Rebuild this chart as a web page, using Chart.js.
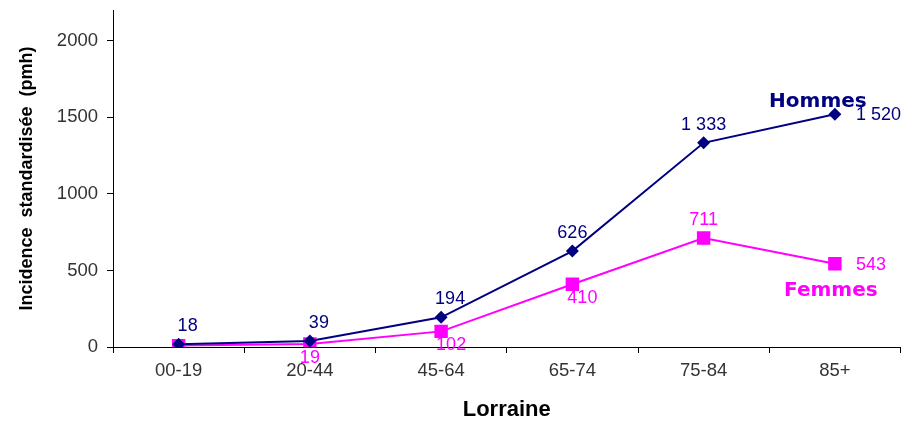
<!DOCTYPE html>
<html>
<head>
<meta charset="utf-8">
<script src="https://cdn.jsdelivr.net/npm/chart.js@4.4.1/dist/chart.umd.min.js"></script>
<style>
  html, body { margin: 0; padding: 0; background: #ffffff; }
  #wrap { width: 910px; height: 423px; position: relative; }
</style>
</head>
<body>
<div id="wrap"><canvas id="c" width="910" height="423"></canvas></div>
<script>
// ---- data ----
const categories = ['00-19', '20-44', '45-64', '65-74', '75-84', '85+'];
const hommesValues = [18, 39, 194, 626, 1333, 1520];
const femmesValues = [9, 19, 102, 410, 711, 543];
const hommesLabels = ['18', '39', '194', '626', '1 333', '1 520'];
const femmesLabels = [null, '19', '102', '410', '711', '543'];
const yTickValues = [0, 500, 1000, 1500, 2000];
const yTickLabels = ['0', '500', '1000', '1500', '2000'];
const seriesNames = ['Hommes', 'Femmes'];
const axisTitleY = 'Incidence  standardisée  (pmh)';
const axisTitleX = 'Lorraine';

const NAVY = '#000080';
const MAGENTA = '#FF00FF';
const FONT = '"Liberation Sans", Arial, sans-serif';

// label placement per point: 'above' | 'below' | 'right'
const hommesPlace = ['above', 'above', 'above', 'above', 'above', 'right'];
const femmesPlace = ['below', 'below', 'below', 'below', 'above', 'right'];

function zeroPad(s) {
  s.paddingLeft = 0; s.paddingRight = 0; s.paddingTop = 0; s.paddingBottom = 0;
  if (s._margins) { s._margins.left = 0; s._margins.right = 0; s._margins.top = 0; s._margins.bottom = 0; }
}

const labelPlugin = {
  id: 'labels',
  afterDatasetsDraw(chart) {
    const ctx = chart.ctx;
    const xs = chart.scales.x, ys = chart.scales.y;
    ctx.save();
    ctx.font = '18px ' + FONT;
    ctx.textBaseline = 'middle';
    const draw = (vals, labs, places, color) => {
      ctx.fillStyle = color;
      vals.forEach((v, i) => {
        if (!labs[i]) return;
        const px = xs.getPixelForValue(i);
        const py = ys.getPixelForValue(v);
        const p = places[i];
        if (p === 'right') {
          ctx.textAlign = 'left';
          ctx.fillText(labs[i], px + 21, py + 1);
        } else if (p === 'above') {
          ctx.textAlign = 'center';
          ctx.fillText(labs[i], px + (i < 3 ? 9 : 0), py - 18);
        } else {
          ctx.textAlign = 'center';
          ctx.fillText(labs[i], px + (i === 1 ? 0 : 10), py + 14);
        }
      });
    };
    draw(hommesValues, hommesLabels, hommesPlace, NAVY);
    draw(femmesValues, femmesLabels, femmesPlace, MAGENTA);

    // series name annotations near the last points
    ctx.font = 'bold 20px "DejaVu Sans", Verdana, sans-serif';
    ctx.textAlign = 'center';
    const lastX = xs.getPixelForValue(categories.length - 1);
    ctx.fillStyle = NAVY;
    ctx.fillText(seriesNames[0], lastX - 17, ys.getPixelForValue(hommesValues[5]) - 12);
    ctx.fillStyle = MAGENTA;
    ctx.fillText(seriesNames[1], lastX - 4, ys.getPixelForValue(femmesValues[5]) + 27);
    ctx.restore();
  }
};

new Chart(document.getElementById('c'), {
  type: 'line',
  data: {
    labels: categories,
    datasets: [
      {
        label: seriesNames[1],
        data: femmesValues,
        borderColor: MAGENTA,
        backgroundColor: MAGENTA,
        borderWidth: 2,
        pointStyle: 'rect',
        pointRadius: 9.5,
        pointHoverRadius: 9.5,
        pointBorderWidth: 0,
        tension: 0,
        order: 2
      },
      {
        label: seriesNames[0],
        data: hommesValues,
        borderColor: NAVY,
        backgroundColor: NAVY,
        borderWidth: 2,
        pointStyle: 'rectRot',
        pointRadius: 6.5,
        pointHoverRadius: 6.5,
        pointBorderWidth: 0,
        tension: 0,
        order: 1
      }
    ]
  },
  options: {
    responsive: false,
    animation: false,
    events: [],
    layout: { padding: { top: 10, right: 5, left: 0, bottom: 0 } },
    plugins: {
      legend: { display: false },
      tooltip: { enabled: false }
    },
    scales: {
      x: {
        type: 'category',
        offset: true,
        grid: {
          offset: true,
          drawOnChartArea: false,
          drawTicks: true,
          tickLength: 6,
          color: '#000000',
          lineWidth: 1
        },
        border: { display: true, color: '#000000', width: 1 },
        ticks: {
          color: '#333333',
          font: { family: FONT, size: 18.5 },
          padding: 7,
          maxRotation: 0
        },
        title: {
          display: true,
          text: axisTitleX,
          color: '#000000',
          font: { family: FONT, size: 22, weight: 'bold' },
          padding: { top: 0, bottom: 0 }
        },
        afterFit(scale) {
          scale.height = 76;
          zeroPad(scale);
        }
      },
      y: {
        type: 'linear',
        min: 0,
        max: 2200,
        grid: {
          drawOnChartArea: false,
          drawTicks: true,
          tickLength: 6,
          color: '#000000',
          lineWidth: 1
        },
        border: { display: true, color: '#000000', width: 1 },
        ticks: {
          stepSize: 500,
          includeBounds: false,
          color: '#333333',
          font: { family: FONT, size: 18.5 },
          padding: 9,
          callback(value) {
            const k = yTickValues.indexOf(value);
            return k >= 0 ? yTickLabels[k] : '';
          }
        },
        afterBuildTicks(scale) {
          scale.ticks = yTickValues.map(v => ({ value: v }));
        },
        title: {
          display: true,
          text: axisTitleY,
          color: '#000000',
          font: { family: FONT, size: 18, weight: 'bold' },
          padding: { top: 16, bottom: 0 }
        },
        afterFit(scale) {
          scale.width = 113;
          zeroPad(scale);
        }
      }
    }
  },
  plugins: [labelPlugin]
});
</script>
</body>
</html>
